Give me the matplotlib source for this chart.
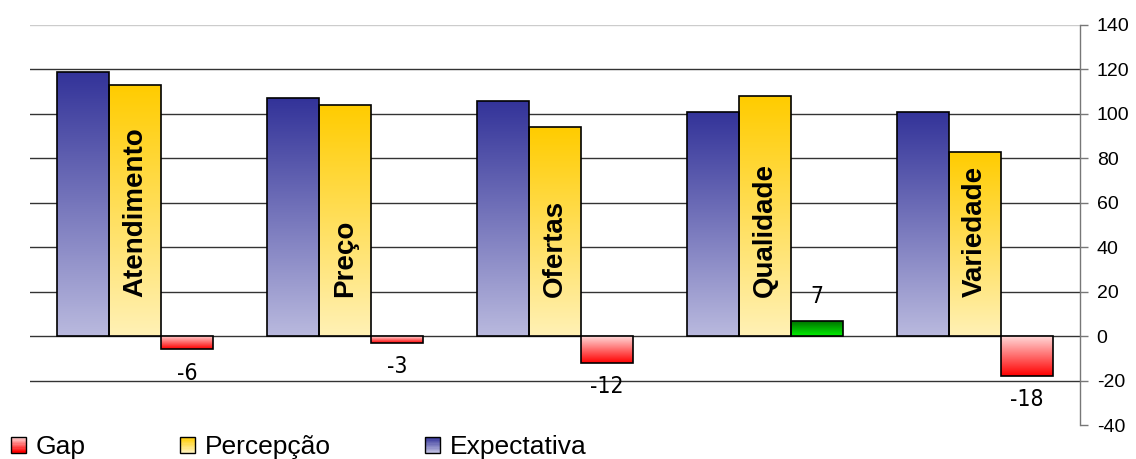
import numpy as np
import matplotlib
matplotlib.use('Agg')
import matplotlib.pyplot as plt
from matplotlib.colors import to_rgb
from matplotlib.patches import Rectangle
from matplotlib.legend_handler import HandlerBase

plt.rcParams['font.family'] = ['Liberation Sans', 'DejaVu Sans']
plt.rcParams['axes.unicode_minus'] = False

# Dados do gráfico
categorias = ['Atendimento', 'Preço', 'Ofertas', 'Qualidade', 'Variedade']
expectativa = [119, 107, 106, 101, 101]
percepcao = [113, 104, 94, 108, 83]
gap = [-6, -3, -12, 7, -18]
ticks_y = [-40, -20, 0, 20, 40, 60, 80, 100, 120, 140]

# Cores dos degradês (topo, base)
cor_exp = ('#333399', '#b9b9de')
cor_perc = ('#ffcc00', '#fff1b5')
cor_gap_neg = ('#ffd8d8', '#ff0000')
cor_gap_pos = ('#006a00', '#00f000')


def degrade(topo, base, n=128):
    t = np.linspace(0, 1, n)[:, None]
    c0 = np.array(to_rgb(topo))
    c1 = np.array(to_rgb(base))
    return (c0 * (1 - t) + c1 * t)[:, None, :]


def pintar_barras(ax, barras, cores_por_barra):
    for barra, (topo, base) in zip(barras, cores_por_barra):
        x0 = barra.get_x()
        x1 = x0 + barra.get_width()
        y0 = min(barra.get_y(), barra.get_y() + barra.get_height())
        y1 = max(barra.get_y(), barra.get_y() + barra.get_height())
        img = ax.imshow(degrade(topo, base), extent=(x0, x1, y0, y1),
                        origin='upper', aspect='auto', zorder=2,
                        interpolation='bilinear')
        img.set_clip_path(barra)


class HandlerDegrade(HandlerBase):
    def __init__(self, topo, base):
        super().__init__()
        self.topo = topo
        self.base = base

    def create_artists(self, legend, orig_handle, xdescent, ydescent,
                       width, height, fontsize, trans):
        artistas = []
        n = 12
        cores = degrade(self.topo, self.base, n)[:, 0, :]
        for i in range(n):
            r = Rectangle((-xdescent, -ydescent + height * (n - 1 - i) / n),
                          width, height / n, facecolor=cores[i],
                          edgecolor='none', transform=trans)
            artistas.append(r)
        artistas.append(Rectangle((-xdescent, -ydescent), width, height,
                                  facecolor='none', edgecolor='black',
                                  linewidth=1.0, transform=trans))
        return artistas


fig = plt.figure(figsize=(11.36, 4.59), dpi=100)
ax = fig.add_axes([30 / 1136, 1 - 425 / 459, 1050 / 1136, 400 / 459])

x = np.arange(len(categorias))
largura = 0.2476

# Linhas de grade
for v in ticks_y[1:-1]:
    ax.axhline(v, color='#333333', linewidth=1.0, zorder=1)
ax.axhline(140, color='#cccccc', linewidth=1.0, zorder=1)

b_exp = ax.bar(x - largura, expectativa, largura, facecolor='none',
               edgecolor='black', linewidth=1.2, zorder=3)
b_perc = ax.bar(x, percepcao, largura, facecolor='none',
                edgecolor='black', linewidth=1.2, zorder=3)
b_gap = ax.bar(x + largura, gap, largura, facecolor='none',
               edgecolor='black', linewidth=1.2, zorder=3)

pintar_barras(ax, b_exp, [cor_exp] * len(x))
pintar_barras(ax, b_perc, [cor_perc] * len(x))
pintar_barras(ax, b_gap, [cor_gap_pos if g > 0 else cor_gap_neg for g in gap])

# Nomes das categorias dentro das barras de percepção
for xi, nome in zip(x, categorias):
    ax.text(xi, 17.5, nome, rotation=90, ha='center', va='bottom',
            fontsize=20, fontweight='bold', zorder=4)

# Rótulos dos gaps
for xi, g in zip(x, gap):
    desloc = 17 if g > 0 else -17
    ax.annotate(str(g), (xi + largura, g), xytext=(0, desloc),
                textcoords='offset points', ha='center', va='center',
                fontsize=16.5, family='DejaVu Sans', fontstretch='condensed',
                zorder=4)

ax.set_xlim(-0.5, len(categorias) - 0.5)
ax.set_ylim(-40, 140)
ax.set_yticks(ticks_y)
ax.yaxis.tick_right()
ax.tick_params(axis='y', direction='out', length=6, width=1, color='#777777',
               pad=6, labelsize=14)
ax.set_xticks([])
for lado in ['top', 'left', 'bottom']:
    ax.spines[lado].set_visible(False)
ax.spines['right'].set_color('#777777')
ax.spines['right'].set_linewidth(1.0)

# Legenda
h_gap = Rectangle((0, 0), 1, 1)
h_perc = Rectangle((0, 0), 1, 1)
h_exp = Rectangle((0, 0), 1, 1)
fig.legend([h_gap, h_perc, h_exp], ['Gap', 'Percepção', 'Expectativa'],
           handler_map={h_gap: HandlerDegrade(*cor_gap_neg),
                        h_perc: HandlerDegrade(*cor_perc),
                        h_exp: HandlerDegrade(*cor_exp)},
           loc='lower left', bbox_to_anchor=(11 / 1136, 0), ncol=3,
           frameon=False, fontsize=19, handlelength=0.57, handleheight=0.57,
           handletextpad=0.38, columnspacing=3.55, borderpad=0, borderaxespad=0)

fig.savefig('out.png', dpi=100)
